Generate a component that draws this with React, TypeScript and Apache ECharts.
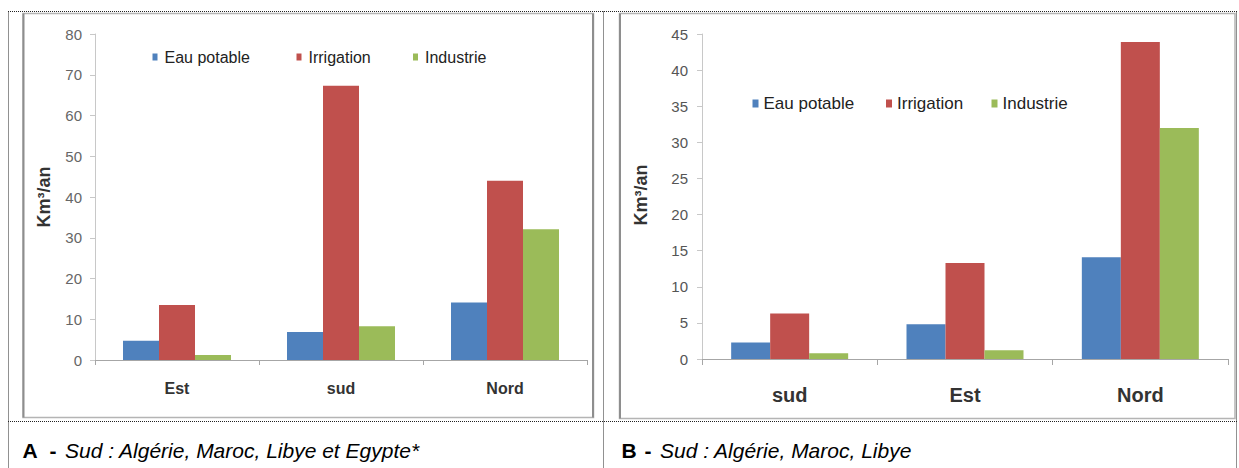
import React, { useEffect, useRef } from "react";
import * as echarts from "echarts";

const categoriesA = ["Est", "sud", "Nord"];
const eauA = [4.7, 6.9, 14.1];
const irrigationA = [13.5, 67.3, 44.0];
const industrieA = [1.2, 8.3, 32.1];

const categoriesB = ["sud", "Est", "Nord"];
const eauB = [2.3, 4.8, 14.1];
const irrigationB = [6.3, 13.3, 43.9];
const industrieB = [0.8, 1.2, 32.0];

const seriesNames = ["Eau potable", "Irrigation", "Industrie"];
const colors = ["#4F81BD", "#C0504D", "#9BBB59"];

const yMaxA = 80;
const yIntervalA = 10;
const yMaxB = 45;
const yIntervalB = 5;

const unitLabel = "Km³/an";
const captionA = "Sud : Algérie, Maroc, Libye et Egypte*";
const captionB = "Sud : Algérie, Maroc, Libye";

const REG = "'Liberation Sans', Arial, sans-serif";

export default function App() {
  const ref = useRef<HTMLDivElement>(null);
  useEffect(() => {
    if (!ref.current) return;
    const chart = echarts.init(ref.current, undefined, { renderer: "svg" });

    const dataA = [eauA, irrigationA, industrieA];
    const dataB = [eauB, irrigationB, industrieB];

    const series: any[] = [];
    seriesNames.forEach((n, i) => {
      series.push({
        type: "bar",
        name: n,
        xAxisIndex: 0,
        yAxisIndex: 0,
        data: dataA[i],
        barWidth: 36,
        barGap: "0%",
        itemStyle: { color: colors[i] },
      });
    });
    seriesNames.forEach((n, i) => {
      series.push({
        type: "bar",
        name: n,
        xAxisIndex: 1,
        yAxisIndex: 1,
        data: dataB[i],
        barWidth: 39,
        barGap: "0%",
        itemStyle: { color: colors[i] },
      });
    });

    const legendA = [152.5, 296.5, 413];
    const legendB = [752.5, 886, 991.5];
    const legends: any[] = [];
    seriesNames.forEach((n, i) => {
      legends.push({
        data: [n],
        left: legendA[i],
        top: 49,
        padding: 0,
        itemWidth: 5,
        itemHeight: 7,
        icon: "rect",
        textStyle: { fontFamily: REG, fontSize: 16, color: "#222", padding: [0, 0, 0, 2] },
        selectedMode: false,
      });
    });
    seriesNames.forEach((n, i) => {
      legends.push({
        data: [n],
        left: legendB[i],
        top: 95,
        padding: 0,
        itemWidth: 6,
        itemHeight: 8,
        icon: "rect",
        textStyle: { fontFamily: REG, fontSize: 17, color: "#222" },
        selectedMode: false,
      });
    });

    const dotted = { stroke: "#222", lineWidth: 1, lineDash: [1, 1] };

    const option: any = {
      animation: false,
      legend: legends,
      grid: [
        { left: 95, top: 34, width: 492, height: 326 },
        { left: 702, top: 34, width: 526, height: 325 },
      ],
      xAxis: [
        {
          type: "category",
          gridIndex: 0,
          data: categoriesA,
          axisLine: { lineStyle: { color: "#A6A6A6" } },
          axisTick: { show: true, length: 5, lineStyle: { color: "#A6A6A6" } },
          axisLabel: { fontFamily: REG, fontWeight: "bold", fontSize: 16, color: "#333", margin: 20 },
        },
        {
          type: "category",
          gridIndex: 1,
          data: categoriesB,
          axisLine: { lineStyle: { color: "#A6A6A6" } },
          axisTick: { show: true, length: 6, lineStyle: { color: "#A6A6A6" } },
          axisLabel: { fontFamily: REG, fontWeight: "bold", fontSize: 20, color: "#333", margin: 26 },
        },
      ],
      yAxis: [
        {
          type: "value",
          gridIndex: 0,
          min: 0,
          max: yMaxA,
          interval: yIntervalA,
          axisLine: { show: true, lineStyle: { color: "#C8C8C8" } },
          axisTick: { show: true, length: 5, lineStyle: { color: "#C8C8C8" } },
          splitLine: { show: false },
          axisLabel: { fontFamily: REG, fontSize: 15, color: "#666", margin: 13 },
        },
        {
          type: "value",
          gridIndex: 1,
          min: 0,
          max: yMaxB,
          interval: yIntervalB,
          axisLine: { show: true, lineStyle: { color: "#C8C8C8" } },
          axisTick: { show: true, length: 5, lineStyle: { color: "#C8C8C8" } },
          splitLine: { show: false },
          axisLabel: { fontFamily: REG, fontSize: 15, color: "#555", margin: 14 },
        },
      ],
      series,
      graphic: [
        // table dotted lines
        { type: "line", shape: { x1: 8, y1: 11.5, x2: 1237, y2: 11.5 }, style: dotted, silent: true },
        { type: "line", shape: { x1: 8, y1: 421.5, x2: 1237, y2: 421.5 }, style: dotted, silent: true },
        { type: "line", shape: { x1: 8.5, y1: 11.5, x2: 8.5, y2: 468 }, style: dotted, silent: true },
        { type: "line", shape: { x1: 603.5, y1: 11.5, x2: 603.5, y2: 468 }, style: dotted, silent: true },
        { type: "line", shape: { x1: 1236.5, y1: 11.5, x2: 1236.5, y2: 468 }, style: dotted, silent: true },
        // chart frames
        { type: "rect", shape: { x: 23, y: 13.5, width: 570.5, height: 404 }, style: { fill: "none", stroke: "#B4B4B4", lineWidth: 1.5 }, silent: true },
        { type: "line", shape: { x1: 23.5, y1: 13.5, x2: 23.5, y2: 417.5 }, style: { stroke: "#8E8E8E", lineWidth: 2 }, silent: true },
        { type: "line", shape: { x1: 593, y1: 13.5, x2: 593, y2: 417.5 }, style: { stroke: "#8E8E8E", lineWidth: 2 }, silent: true },
        { type: "rect", shape: { x: 619.5, y: 13.5, width: 615.5, height: 405 }, style: { fill: "none", stroke: "#B4B4B4", lineWidth: 1.5 }, silent: true },
        { type: "line", shape: { x1: 620, y1: 13.5, x2: 620, y2: 418.5 }, style: { stroke: "#8E8E8E", lineWidth: 2 }, silent: true },
        // axis names
        {
          type: "text", x: 43.5, y: 197, rotation: Math.PI / 2,
          style: { text: unitLabel, fontFamily: REG, fontWeight: "bold", fontSize: 18, fill: "#333", align: "center", verticalAlign: "middle" },
          silent: true,
        },
        {
          type: "text", x: 640.5, y: 195, rotation: Math.PI / 2,
          style: { text: unitLabel, fontFamily: REG, fontWeight: "bold", fontSize: 18, fill: "#333", align: "center", verticalAlign: "middle" },
          silent: true,
        },
        // captions
        { type: "text", x: 22.5, y: 450, style: { text: "A", fontFamily: REG, fontWeight: "bold", fontSize: 21, fill: "#000", align: "left", verticalAlign: "middle" }, silent: true },
        { type: "text", x: 49.5, y: 450, style: { text: "-", fontFamily: REG, fontWeight: "bold", fontSize: 21, fill: "#000", align: "left", verticalAlign: "middle" }, silent: true },
        { type: "text", x: 65, y: 450, style: { text: captionA, fontFamily: REG, fontStyle: "italic", fontSize: 21, fill: "#000", align: "left", verticalAlign: "middle" }, silent: true },
        { type: "text", x: 621.5, y: 450, style: { text: "B", fontFamily: REG, fontWeight: "bold", fontSize: 21, fill: "#000", align: "left", verticalAlign: "middle" }, silent: true },
        { type: "text", x: 644.5, y: 450, style: { text: "-", fontFamily: REG, fontWeight: "bold", fontSize: 21, fill: "#000", align: "left", verticalAlign: "middle" }, silent: true },
        { type: "text", x: 660, y: 450, style: { text: captionB, fontFamily: REG, fontStyle: "italic", fontSize: 21, fill: "#000", align: "left", verticalAlign: "middle" }, silent: true },
      ],
    };
    chart.setOption(option);
    return () => chart.dispose();
  }, []);
  return (
    <div
      ref={ref}
      style={{ position: "absolute", left: 0, top: 0, width: 1239, height: 468, background: "#fff" }}
    />
  );
}
